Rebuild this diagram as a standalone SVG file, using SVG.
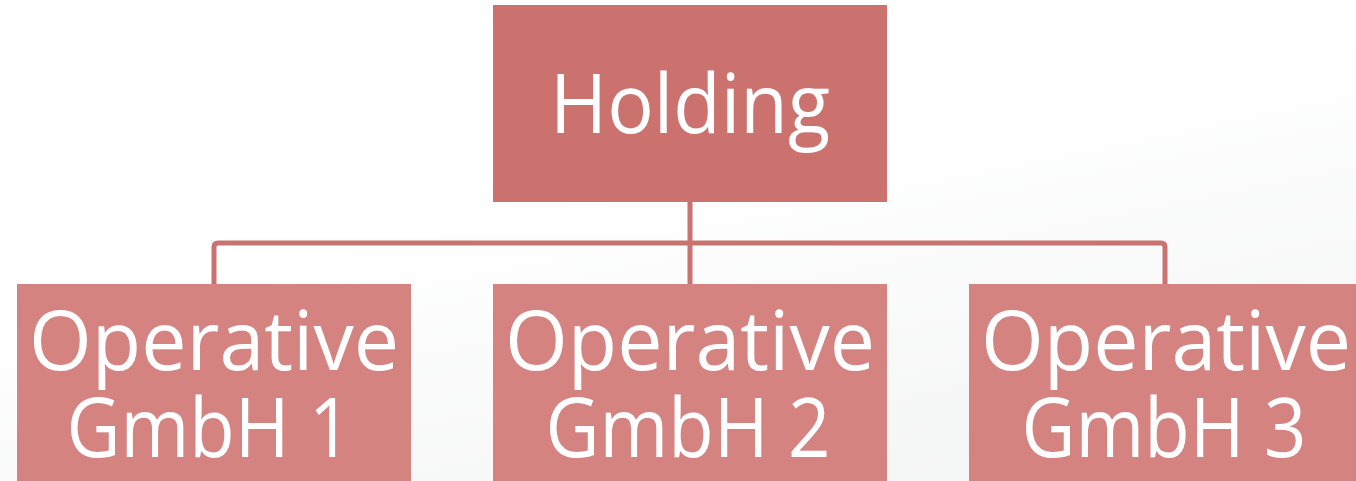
<svg xmlns="http://www.w3.org/2000/svg" width="1356" height="481" viewBox="0 0 1356 481">
<defs>
<linearGradient id="bg" x1="0.6" y1="0.3" x2="1" y2="1">
<stop offset="0" stop-color="#ffffff"/>
<stop offset="1" stop-color="#f2f3f3"/>
</linearGradient>
<style>
.top{fill:#cb726f}
.child{fill:#d48380}
.lbl{font-family:"Open Sans","Noto Sans","DejaVu Sans",sans-serif;font-size:82px;fill:#ffffff;text-anchor:middle}
.conn{fill:none;stroke:#c97371;stroke-width:5;stroke-linejoin:round}
</style>
</defs>
<rect x="0" y="0" width="1356" height="481" fill="url(#bg)"/>
<g id="connectors">
<path class="conn" d="M214,284 V247 Q214,243 218,243 H1161 Q1165,243 1165,247 V284"/>
<path class="conn" d="M690,202 V284"/>
</g>
<g id="holding">
<rect class="top" x="493" y="5" width="394" height="197"/>
<text class="lbl" x="690" y="133" textLength="280" lengthAdjust="spacingAndGlyphs">Holding</text>
</g>
<g id="gmbh1">
<rect class="child" x="17" y="284" width="394" height="197"/>
<text class="lbl" x="214" y="370" textLength="370" lengthAdjust="spacingAndGlyphs">Operative</text>
<text class="lbl" x="209" y="457" textLength="285" lengthAdjust="spacingAndGlyphs">GmbH 1</text>
</g>
<g id="gmbh2">
<rect class="child" x="493" y="284" width="394" height="197"/>
<text class="lbl" x="690" y="370" textLength="370" lengthAdjust="spacingAndGlyphs">Operative</text>
<text class="lbl" x="688" y="457" textLength="285" lengthAdjust="spacingAndGlyphs">GmbH 2</text>
</g>
<g id="gmbh3">
<rect class="child" x="969" y="284" width="394" height="197"/>
<text class="lbl" x="1166" y="370" textLength="370" lengthAdjust="spacingAndGlyphs">Operative</text>
<text class="lbl" x="1164" y="457" textLength="285" lengthAdjust="spacingAndGlyphs">GmbH 3</text>
</g>
</svg>
